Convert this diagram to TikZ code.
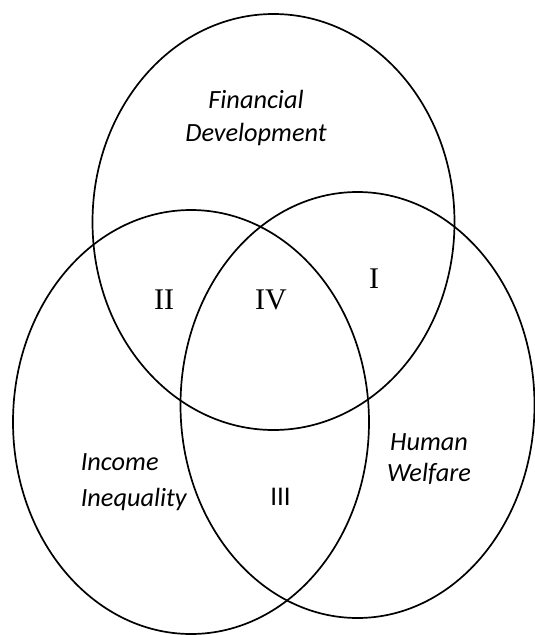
\documentclass[tikz,border=0pt]{standalone}
\usepackage{fontspec}
\setsansfont{Carlito}
\setmainfont{Liberation Serif}
\usetikzlibrary{positioning}

\tikzset{
  lbl/.style={font=\sffamily\itshape\fontsize{26.3}{33}\selectfont, align=center, inner sep=0pt},
  num/.style={font=\rmfamily\fontsize{30}{30}\selectfont, inner sep=0pt}
}

\begin{document}
\begin{tikzpicture}[x=1pt, y=-1pt, line width=1.7pt]

 \useasboundingbox (0,0) rectangle (535,635);

	%draw the three sets
    \foreach \cx/\cy/\rx/\ry in {273.5/222/181/208, 191/422/178/212, 357.5/405/177/213}{
       \draw (\cx,\cy) ellipse[x radius=\rx, y radius=\ry];
    }

	%set names
 \node[lbl] (fin) at (256,118) {Financial\\Development};
 \node[lbl, font=\sffamily\itshape\fontsize{26.3}{31}\selectfont] (hum) at (429,459) {Human\\Welfare};
 \node[lbl, align=left, anchor=west, font=\sffamily\itshape\fontsize{26.3}{35.7}\selectfont] (inc) at (80,482) {Income\\Inequality};

	%regions
    \foreach \x/\y/\num/\name in {374/279/I/r1, 164/300/II/r2, 271/300/IV/r4}{
       \node[num] (\name) at (\x,\y) {\num};
    }
 \node[num, font=\sffamily\fontsize{27}{27}\selectfont] (r3) at (280.5,496.5) {III};

\end{tikzpicture}
\end{document}
